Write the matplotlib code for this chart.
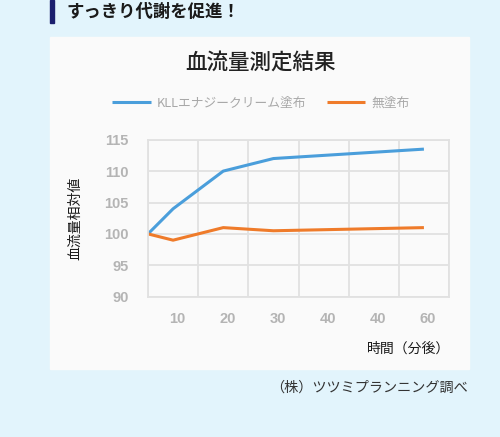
import matplotlib
matplotlib.use("Agg")
import matplotlib.pyplot as plt
from matplotlib.patches import Rectangle
from matplotlib.transforms import ScaledTranslation

plt.rcParams['font.family'] = ['Noto Sans CJK JP', 'DejaVu Sans']

# data (minutes on the chart's own scale)
minutes = [5, 10, 20, 30, 60]
kll = [100, 104, 110, 112, 113.5]
plain = [100, 99, 101, 100.5, 101]
tick_pos = [10, 20, 30, 40, 50, 60]
tick_labels = ["10", "20", "30", "40", "40", "60"]
yticks = [90, 95, 100, 105, 110, 115]

W, H = 500, 437
fig = plt.figure(figsize=(5, 4.37), dpi=100)
fig.patch.set_facecolor('#e2f4fc')

def fx(x):
    return x / W

def fy(y):
    return 1 - y / H

# header bar + heading
fig.patches.append(Rectangle((fx(50), fy(23)), fx(3.5), 23 / H, transform=fig.transFigure,
                             color='#1b1f6e', zorder=0))
fig.text(fx(67), fy(12), "すっきり代謝を促進！", fontsize=12.5, fontweight='bold',
         color='#1a1a1a', va='center', ha='left')

# white panel
fig.patches.append(Rectangle((fx(50), fy(369)), fx(419), (369 - 36.5) / H,
                             transform=fig.transFigure, color='#fafafa', zorder=-1))

fig.text(fx(260), fy(63), "血流量測定結果", fontsize=15.5, color='#222222',
         ha='center', va='center', fontweight='medium')

ax = fig.add_axes([fx(148), fy(296.7), fx(301), (296.7 - 139.7) / H])
ax.set_zorder(2)
ax.set_facecolor('#fafafa')
l1, = ax.plot(minutes, kll, color='#4a9edb', lw=2.2, solid_capstyle='butt',
              label="KLLエナジークリーム塗布")
l2, = ax.plot(minutes, plain, color='#ef7b2a', lw=2.2, solid_capstyle='butt',
              label="無塗布")

ax.set_xlim(5, 65)
ax.set_ylim(90, 115)
ax.set_yticks(yticks)
ax.set_xticks(tick_pos)
ax.set_xticklabels(tick_labels)
ax.set_xticks([5, 15, 25, 35, 45, 55, 65], minor=True)
ax.grid(False)
ax.grid(True, which='minor', axis='x', color='#e1e1e1', lw=1.3)
ax.grid(True, which='major', axis='y', color='#e1e1e1', lw=1.3)
ax.set_axisbelow(True)
for s in ax.spines.values():
    s.set_color('#e1e1e1')
    s.set_linewidth(1.3)
ax.tick_params(which='both', length=0)
ax.tick_params(axis='y', pad=14, labelcolor='#b4b4b4')
ax.tick_params(axis='x', pad=11, labelcolor='#b4b4b4')
shift = ScaledTranslation(4 / 100, 0, fig.dpi_scale_trans)
for t in ax.get_xticklabels() + ax.get_yticklabels():
    t.set_fontweight('bold')
    t.set_fontfamily('Liberation Sans')
    t.set_fontsize(10.5)
for t in ax.get_xticklabels():
    t.set_transform(t.get_transform() + shift)

fig.text(fx(75), fy(218), "血流量相対値", rotation=90, fontsize=10, color='#1a1a1a',
         ha='center', va='center')
fig.text(fx(409), fy(349), "時間（分後）", fontsize=10, color='#1a1a1a',
         ha='center', va='center')
fig.text(fx(468), fy(388), "（株）ツツミプランニング調べ", fontsize=10.2, color='#333333',
         ha='right', va='center')

fig.legend(handles=[l1, l2], loc='center', bbox_to_anchor=(fx(261), fy(103)), ncol=2,
           frameon=False, fontsize=9.2, labelcolor='#a8a8a8', handlelength=3.0,
           handletextpad=0.5, columnspacing=1.6)

fig.savefig("out.png", dpi=100, facecolor=fig.get_facecolor())
